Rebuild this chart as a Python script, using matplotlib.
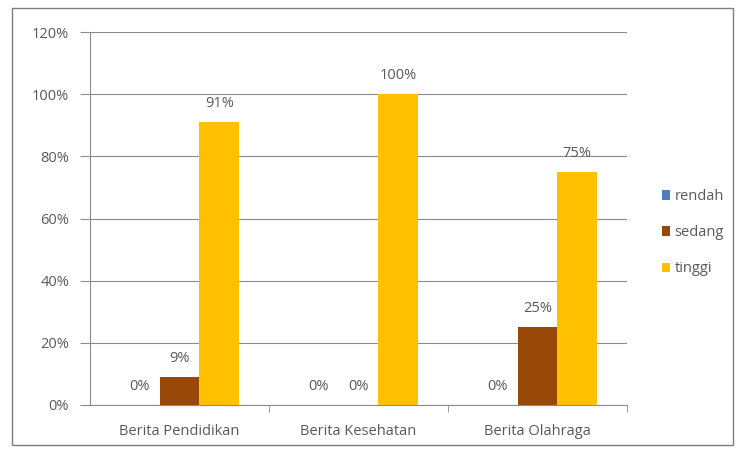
import numpy as np
import matplotlib.pyplot as plt
from matplotlib.patches import Rectangle
from matplotlib.ticker import PercentFormatter

categories = ['Berita Pendidikan', 'Berita Kesehatan', 'Berita Olahraga']
series = ['rendah', 'sedang', 'tinggi']
rendah = [0, 0, 0]
sedang = [9, 0, 25]
tinggi = [91, 100, 75]
colors = ['#4F81BD', '#984807', '#FFC000']

plt.rcParams['font.family'] = ['Open Sans', 'DejaVu Sans']
text_color = '#595959'

fig = plt.figure(figsize=(7.44, 4.5), dpi=100)
ax = fig.add_axes([90 / 744, 1 - 405 / 450, (627 - 90) / 744, (405 - 32) / 450])

x = np.arange(len(categories))
w = 1 / 4.5
for i, (name, vals) in enumerate(zip(series, [rendah, sedang, tinggi])):
    pos = x + (i - 1) * w
    ax.bar(pos, vals, width=w, color=colors[i], label=name, zorder=3)
    for p, v in zip(pos, vals):
        ax.text(p, v + 3.5, f'{v}%', ha='center', va='bottom', fontsize=10.5,
                color=text_color)

ax.set_xlim(-0.5, 2.5)
ax.set_ylim(0, 120)
ax.set_yticks(np.arange(0, 121, 20))
ax.yaxis.set_major_formatter(PercentFormatter(decimals=0))
ax.grid(axis='y', color='#8c8c8c', linewidth=0.8, zorder=0)

ax.set_xticks(x)
ax.set_xticklabels(categories)
ax.set_xticks([0.5, 1.5, 2.5], minor=True)
ax.tick_params(axis='x', which='major', length=0, pad=14, labelsize=10.5, labelcolor=text_color)
ax.tick_params(axis='x', which='minor', length=5, color='#8c8c8c', direction='out')
ax.tick_params(axis='y', length=7, color='#8c8c8c', labelsize=10.5, labelcolor=text_color, pad=8)

for side in ['top', 'right']:
    ax.spines[side].set_visible(False)
for side in ['left', 'bottom']:
    ax.spines[side].set_color('#8c8c8c')
    ax.spines[side].set_linewidth(0.8)

leg = ax.legend(loc='center left', bbox_to_anchor=(1.04, 0.462), frameon=False,
                handlelength=0.6, handleheight=0.6, handletextpad=0.3,
                labelspacing=1.45, fontsize=10.5)
for t in leg.get_texts():
    t.set_color(text_color)

fig.patches.append(Rectangle((12 / 744, 5 / 450), 721 / 744, 437 / 450,
                             transform=fig.transFigure, fill=False,
                             edgecolor='#7f7f7f', linewidth=1))

fig.savefig('out.png', dpi=100)
